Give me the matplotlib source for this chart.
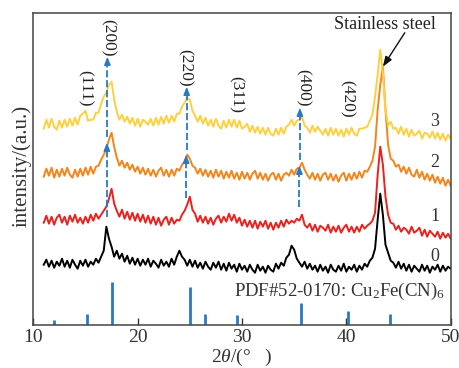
import matplotlib
matplotlib.use("Agg")
import matplotlib.pyplot as plt
import numpy as np

plt.rcParams['font.family'] = ['Liberation Serif', 'DejaVu Serif']
plt.rcParams['mathtext.fontset'] = 'custom'
plt.rcParams['mathtext.rm'] = 'Liberation Serif'
plt.rcParams['mathtext.it'] = 'Liberation Serif:italic'

# ---------------- data ----------------
two_theta_start = 11.0
two_theta_step = 0.25

black_0 = [60, 65, 58, 64, 57, 63, 59, 66,
           58, 64, 57, 65, 60, 56, 64, 59,
           65, 58, 63, 60, 66, 62, 68, 74,
           98, 86, 78, 68, 74, 66, 71, 63,
           69, 61, 67, 60, 66, 59, 65, 60,
           66, 58, 64, 61, 57, 65, 59, 63,
           58, 66, 60, 68, 74, 68, 65, 59,
           65, 58, 64, 57, 62, 56, 63, 58,
           55, 62, 57, 63, 55, 61, 54, 62,
           56, 60, 53, 61, 55, 59, 53, 60,
           55, 52, 60, 54, 58, 52, 59, 55,
           53, 61, 56, 62, 59, 67, 70, 79,
           75, 66, 62, 58, 63, 56, 61, 55,
           59, 53, 60, 54, 58, 52, 60, 55,
           53, 59, 54, 61, 53, 58, 55, 60,
           53, 59, 55, 61, 58, 64, 67, 76,
           105, 131, 110, 80, 72, 64, 62, 57,
           63, 56, 61, 54, 60, 53, 59, 56,
           53, 60, 54, 59, 52, 58, 55, 60,
           53, 59, 54, 58, 56]

red_1 = [102, 109, 101, 108, 100, 107, 110, 102,
         108, 100, 109, 103, 110, 102, 107, 101,
         108, 102, 110, 104, 111, 106, 110, 114,
         118, 126, 136, 121, 114, 108, 115, 106,
         113, 105, 112, 104, 111, 103, 110, 102,
         109, 101, 108, 100, 107, 99, 105, 108,
         100, 107, 101, 105, 104, 110, 114, 120,
         128, 115, 111, 103, 109, 102, 108, 101,
         107, 100, 106, 109, 102, 108, 103, 111,
         104, 110, 102, 107, 99, 105, 98, 104,
         97, 104, 96, 103, 98, 104, 96, 102,
         95, 102, 97, 104, 98, 105, 101, 104,
         102, 106, 104, 110, 100, 97, 101, 94,
         100, 93, 99, 97, 94, 100, 92, 98,
         93, 99, 92, 97, 100, 93, 98, 92,
         98, 93, 100, 96, 99, 101, 104, 112,
         150, 178, 160, 128, 110, 102, 101, 95,
         99, 93, 97, 95, 91, 98, 92, 94,
         97, 89, 95, 88, 94, 91, 88, 93,
         86, 92, 87, 91, 86]

orange_2 = [148, 156, 149, 157, 147, 155, 148, 156,
            149, 157, 150, 147, 155, 148, 156, 149,
            157, 150, 158, 151, 158, 159, 165, 170,
            176, 185, 192, 178, 167, 159, 164, 157,
            162, 155, 160, 153, 158, 151, 157, 150,
            156, 149, 155, 148, 154, 157, 149, 155,
            148, 155, 149, 156, 154, 160, 163, 170,
            166, 159, 157, 151, 156, 149, 155, 148,
            154, 147, 155, 148, 154, 146, 153, 147,
            154, 146, 152, 145, 153, 146, 152, 145,
            151, 154, 146, 152, 145, 151, 144, 150,
            152, 145, 151, 144, 150, 152, 149, 155,
            150, 156, 157, 162, 155, 150, 146, 152,
            145, 151, 144, 150, 152, 145, 151, 144,
            150, 143, 149, 152, 144, 151, 145, 152,
            146, 153, 147, 154, 153, 158, 164, 178,
            215, 240, 258, 215, 180, 166, 164, 158,
            160, 153, 158, 151, 157, 150, 148, 155,
            147, 153, 145, 151, 144, 150, 142, 148,
            141, 147, 139, 145, 139]

yellow_3 = [196, 205, 197, 206, 198, 195, 204, 197,
            205, 198, 206, 199, 207, 200, 209, 211,
            214, 204, 205, 205, 212, 212, 221, 228,
            232, 240, 243, 225, 213, 205, 210, 203,
            208, 201, 207, 199, 206, 198, 205, 203,
            200, 206, 199, 207, 200, 208, 201, 209,
            202, 209, 203, 211, 211, 218, 222, 227,
            225, 214, 209, 203, 209, 201, 207, 199,
            205, 198, 206, 199, 196, 204, 197, 205,
            198, 205, 197, 204, 196, 198, 201, 193,
            199, 192, 198, 191, 197, 190, 197, 191,
            189, 196, 190, 197, 191, 198, 200, 205,
            199, 204, 205, 208, 199, 197, 192, 199,
            193, 198, 194, 190, 196, 189, 197, 190,
            196, 189, 195, 188, 196, 190, 197, 191,
            189, 196, 196, 197, 198, 204, 210, 228,
            250, 275, 252, 215, 199, 203, 196, 197,
            191, 198, 190, 196, 188, 195, 189, 191,
            194, 186, 192, 191, 187, 193, 186, 192,
            185, 191, 184, 190, 186]

series_labels = ['0', '1', '2', '3']
series_colors = ['#000000', '#e8221f', '#f2851c', '#fdd03f']
series_label_y = [68, 108, 162, 203]

pdf_positions = [12.0, 15.1, 17.55, 25.0, 26.45, 29.5, 35.7, 40.15, 44.2]
pdf_heights = [4.5, 11, 43, 38, 11, 9.5, 21.7, 14, 11]

hkl_labels = ['(111)', '(200)', '(220)', '(311)', '(400)', '(420)']
hkl_x = [14.95, 17.16, 24.54, 29.43, 35.85, 40.06]
hkl_y = [236, 287, 257, 230, 237, 226]

# blue shift arrows: x, y_from, y_to
shift_arrow_x = [17.05, 17.1, 24.65, 24.7, 35.5, 35.55]
shift_arrow_y0 = [108, 188, 127, 175, 118, 165]
shift_arrow_y1 = [182, 268, 170, 238, 159, 217]

# --------------- figure ---------------
fig = plt.figure(figsize=(4.6, 3.68), dpi=100)
ax = fig.add_axes([33.3 / 460, 1 - 324.7 / 368, (450.7 - 33.3) / 460, (324.7 - 12.7) / 368])

curves = [black_0, red_1, orange_2, yellow_3]
for vals, col in zip(curves, series_colors):
    x = two_theta_start + two_theta_step * np.arange(len(vals))
    ax.plot(x, vals, color=col, lw=1.4, zorder=2)

ax.vlines(pdf_positions, 0, pdf_heights, colors='#2b78c5', lw=2.0, zorder=2)

blue = '#2b78c5'
for xa, y0, y1 in zip(shift_arrow_x, shift_arrow_y0, shift_arrow_y1):
    ax.plot([xa, xa], [y0, y1 - 4], color=blue, lw=1.3, ls=(0, (4, 1.5)), zorder=4)
    ax.annotate('', xy=(xa, y1), xytext=(xa, y1 - 7),
                arrowprops=dict(arrowstyle='-|>,head_length=0.45,head_width=0.18',
                                color=blue, lw=1.2, shrinkA=0, shrinkB=0), zorder=5)

for lab, xx, yy in zip(hkl_labels, hkl_x, hkl_y):
    ax.text(xx, yy, lab, rotation=-90, ha='center', va='center', fontsize=12.5, color='#222222')

for lab, yy in zip(series_labels, series_label_y):
    ax.text(48.5, yy, lab, ha='center', va='center', fontsize=13, color='#333333')

ax.text(43.7, 300, 'Stainless steel', ha='center', va='center', fontsize=13, color='#222222')
ax.annotate('', xy=(43.5, 258), xytext=(45.6, 292),
            arrowprops=dict(arrowstyle='-|>,head_length=0.6,head_width=0.22',
                            color='#111111', lw=1.0, shrinkA=0, shrinkB=0))

ax.text(49.45, 29, r'PDF#52-0170: Cu$_2$Fe(CN)$_6$', ha='right', va='baseline',
        fontsize=13.5, color='#333333')

ax.set_xlim(10, 50)
ax.set_ylim(0, 312)
ax.set_xticks([10, 20, 30, 40, 50])
ax.set_yticks([])
ax.tick_params(axis='x', direction='in', length=5, width=1, labelsize=14,
               colors='#333333', pad=3)
for s in ax.spines.values():
    s.set_color('#444444')
    s.set_linewidth(1.1)

ax.set_xlabel(r'2$\it{\theta}$/(°   )', fontsize=14, color='#333333', labelpad=1)
ax.set_ylabel('intensity/(a.u.)', fontsize=15, color='#333333')
ax.yaxis.set_label_coords(-0.004, 0.51)

fig.savefig('out.png', dpi=100)
